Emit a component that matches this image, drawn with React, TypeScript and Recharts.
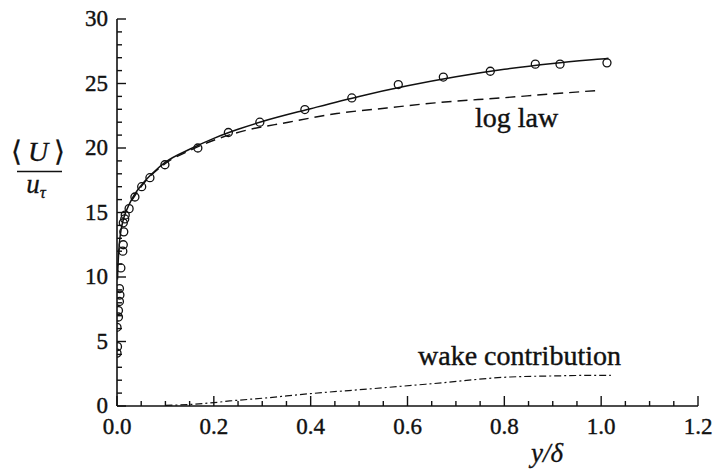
import { ComposedChart, Line, Scatter, XAxis, YAxis } from "recharts";

// measured mean velocity (circles)
const obsX = [0.0, 0.001, 0.0, 0.003, 0.003, 0.005, 0.006, 0.005, 0.008, 0.012, 0.013, 0.014, 0.013, 0.016, 0.017, 0.025, 0.037, 0.051, 0.068, 0.099, 0.167, 0.23, 0.295, 0.388, 0.485, 0.581, 0.674, 0.771, 0.864, 0.915, 1.012];
const obsY = [4.1, 4.6, 6.1, 6.9, 7.4, 8.1, 8.6, 9.1, 10.7, 12.0, 12.5, 13.5, 14.2, 14.5, 14.8, 15.3, 16.2, 17.0, 17.7, 18.7, 20.0, 21.2, 22.0, 22.98, 23.88, 24.92, 25.5, 25.95, 26.5, 26.5, 26.6];

// log law + wake (solid)
const fitX = [0.001, 0.002, 0.004, 0.007, 0.012, 0.02, 0.03, 0.05, 0.075, 0.1, 0.15, 0.2, 0.25, 0.3, 0.4, 0.5, 0.6, 0.7, 0.8, 0.9, 1.0, 1.015];
const fitY = [9.8, 10.8, 12.2, 13.3, 14.3, 15.2, 16.0, 17.1, 18.1, 18.9, 19.9, 20.75, 21.45, 22.05, 23.05, 24.0, 24.82, 25.52, 26.1, 26.55, 26.9, 26.95];

// log law (dashed)
const logX = [0.03, 0.05, 0.1, 0.15, 0.2, 0.254, 0.354, 0.454, 0.557, 0.657, 0.8, 0.9, 0.99];
const logY = [15.9, 17.0, 18.8, 19.8, 20.6, 21.25, 22.0, 22.67, 23.1, 23.5, 23.9, 24.2, 24.45];

// wake contribution (dash-dot)
const wakeX = [0.1, 0.15, 0.2, 0.233, 0.3, 0.4, 0.53, 0.654, 0.812, 0.9, 1.0, 1.02];
const wakeY = [0.05, 0.12, 0.26, 0.39, 0.6, 0.96, 1.35, 1.74, 2.25, 2.33, 2.38, 2.38];

const xTicks = [0, 0.05, 0.1, 0.15, 0.2, 0.25, 0.3, 0.35, 0.4, 0.45, 0.5, 0.55, 0.6, 0.65, 0.7, 0.75, 0.8, 0.85, 0.9, 0.95, 1.0, 1.05, 1.1, 1.15, 1.2];
const yTicks = [0, 1, 2, 3, 4, 5, 6, 7, 8, 9, 10, 11, 12, 13, 14, 15, 16, 17, 18, 19, 20, 21, 22, 23, 24, 25, 26, 27, 28, 29, 30];

const toPoints = (xs: number[], ys: number[]) => xs.map((x, i) => ({ x, y: ys[i] }));

const observed = toPoints(obsX, obsY);
const fit = toPoints(fitX, fitY);
const logLaw = toPoints(logX, logY);
const wake = toPoints(wakeX, wakeY);

const serif = { fontFamily: '"Liberation Serif"' };
const INK = "#111";

function XTick(props: any) {
  const { x, y, payload } = props;
  const v = payload.value;
  const major = Math.abs(v * 5 - Math.round(v * 5)) < 1e-6;
  return (
    <g>
      <line x1={x} x2={x} y1={y} y2={y - (major ? 10 : 5)} stroke={INK} strokeWidth={1.4} />
      {major && (
        <text x={x} y={y + 28} textAnchor="middle" style={serif} fontSize={23} fill={INK} stroke={INK} strokeWidth={0.4}>
          {v.toFixed(1)}
        </text>
      )}
    </g>
  );
}

function YTick(props: any) {
  const { x, y, payload } = props;
  const v = payload.value;
  const major = v % 5 === 0;
  return (
    <g>
      <line x1={x} x2={x + (major ? 9 : 5)} y1={y} y2={y} stroke={INK} strokeWidth={1.4} />
      {major && (
        <text x={x - 9} y={y + 7} textAnchor="end" style={serif} fontSize={23} fill={INK} stroke={INK} strokeWidth={0.4}>
          {v}
        </text>
      )}
    </g>
  );
}

function Ring(props: any) {
  const { cx, cy } = props;
  return <circle cx={cx} cy={cy} r={4} fill="none" stroke={INK} strokeWidth={1.3} />;
}

export default function App() {
  return (
    <div style={{ position: "absolute", left: 0, top: 0, width: 714, height: 474, background: "#fff" }}>
      <ComposedChart width={714} height={474} margin={{ top: 19, right: 16, bottom: 38, left: 0 }}>
        <XAxis
          type="number"
          dataKey="x"
          domain={[0, 1.2]}
          ticks={xTicks}
          interval={0}
          height={30}
          tickLine={false}
          tickSize={0}
          tickMargin={0}
          axisLine={{ stroke: INK, strokeWidth: 1.6 }}
          tick={(p: any) => <XTick {...p} />}
          allowDataOverflow
        />
        <YAxis
          type="number"
          dataKey="y"
          domain={[0, 30]}
          ticks={yTicks}
          interval={0}
          width={117}
          tickLine={false}
          tickSize={0}
          tickMargin={0}
          axisLine={{ stroke: INK, strokeWidth: 1.6 }}
          tick={(p: any) => <YTick {...p} />}
          allowDataOverflow
        />
        <Line data={wake} dataKey="y" type="monotone" stroke={INK} strokeWidth={1.2} strokeDasharray="7 3 2 3" dot={false} isAnimationActive={false} />
        <Line data={logLaw} dataKey="y" type="monotone" stroke={INK} strokeWidth={1.4} strokeDasharray="10 6" dot={false} isAnimationActive={false} />
        <Line data={fit} dataKey="y" type="monotone" stroke={INK} strokeWidth={1.5} dot={false} isAnimationActive={false} />
        <Scatter data={observed} shape={(p: any) => <Ring {...p} />} isAnimationActive={false} />
      </ComposedChart>
      <svg width={714} height={474} style={{ position: "absolute", left: 0, top: 0, pointerEvents: "none" }}>
        <text x={38} y={161} textAnchor="middle" style={serif} fontSize={28} fill={INK} stroke={INK} strokeWidth={0.3}>
          {"\u27E8\u2009"}
          <tspan fontStyle="italic">U</tspan>
          {"\u2009\u27E9"}
        </text>
        <line x1={17} x2={62} y1={171.5} y2={171.5} stroke={INK} strokeWidth={1.5} />
        <text x={36} y={193} textAnchor="middle" style={serif} fontSize={27} fontStyle="italic" fill={INK} stroke={INK} strokeWidth={0.3}>
          u
          <tspan fontSize={17} dy={5}>τ</tspan>
        </text>
        <text x={547} y={462} textAnchor="middle" style={serif} fontSize={27} fontStyle="italic" fill={INK} stroke={INK} strokeWidth={0.3}>
          y/δ
        </text>
        <text x={475} y={127} style={serif} fontSize={28} fill={INK} stroke={INK} strokeWidth={0.4}>
          log law
        </text>
        <text x={418} y={365} style={serif} fontSize={28} fill={INK} stroke={INK} strokeWidth={0.4}>
          wake contribution
        </text>
      </svg>
    </div>
  );
}
